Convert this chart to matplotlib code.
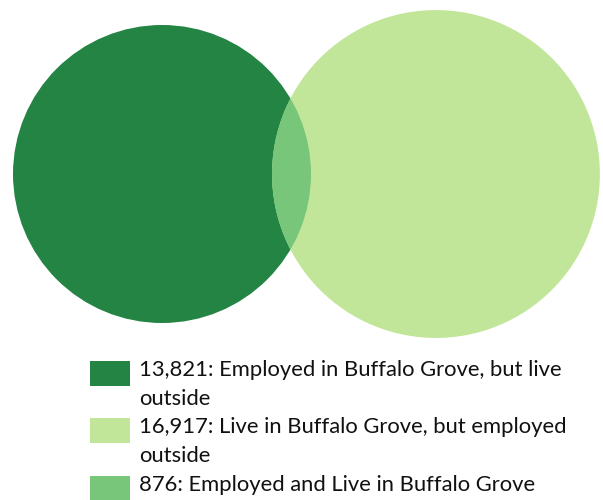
import matplotlib
matplotlib.use("Agg")
import matplotlib.pyplot as plt
from matplotlib.patches import Circle, Rectangle
import numpy as np

# Commuting flows for Buffalo Grove
categories = ["Employed in Buffalo Grove, but live outside",
              "Live in Buffalo Grove, but employed outside",
              "Employed and Live in Buffalo Grove"]
values = [13821, 16917, 876]
colors = ["#238443", "#c2e699", "#78c679"]
legend_lines = [
    ["13,821: Employed in Buffalo Grove, but live", "outside"],
    ["16,917: Live in Buffalo Grove, but employed", "outside"],
    ["876: Employed and Live in Buffalo Grove"],
]

W, H = 603, 500
fig = plt.figure(figsize=(W / 100, H / 100), dpi=100)
ax = fig.add_axes([0, 0, 1, 1])
ax.set_xlim(0, W)
ax.set_ylim(H, 0)
ax.set_aspect("equal")
ax.axis("off")

# circle areas follow each set's total (exclusive + shared)
work_total = values[0] + values[2]
home_total = values[1] + values[2]
scale = 149 / np.sqrt(work_total)
r_work = scale * np.sqrt(work_total)
r_home = scale * np.sqrt(home_total)

cy = 174
cx_work = 162
cx_home = 272 + r_home

work = Circle((cx_work, cy), r_work, facecolor=colors[0], edgecolor="none", zorder=1)
home = Circle((cx_home, cy), r_home, facecolor=colors[1], edgecolor="none", zorder=2)
ax.add_patch(work)
ax.add_patch(home)

# shared region: the work circle clipped to the home circle
clip = Circle((cx_home, cy), r_home, transform=ax.transData)
both = Circle((cx_work, cy), r_work, facecolor=colors[2], edgecolor="none", zorder=3)
ax.add_patch(both)
both.set_clip_path(clip)

# legend
font = dict(family=["Lato", "DejaVu Sans"], size=15.8, color="#111111")
box_tops = [361, 418, 476]
line_gap = 28.8
first_baselines = [376, 433, 491]
for i, lines in enumerate(legend_lines):
    ax.add_patch(Rectangle((90, box_tops[i]), 40, 25, facecolor=colors[i],
                           edgecolor="none"))
    for j, line in enumerate(lines):
        ax.text(139, first_baselines[i] + j * line_gap, line, va="baseline",
                ha="left", **font)

fig.savefig("out.png", dpi=100)
